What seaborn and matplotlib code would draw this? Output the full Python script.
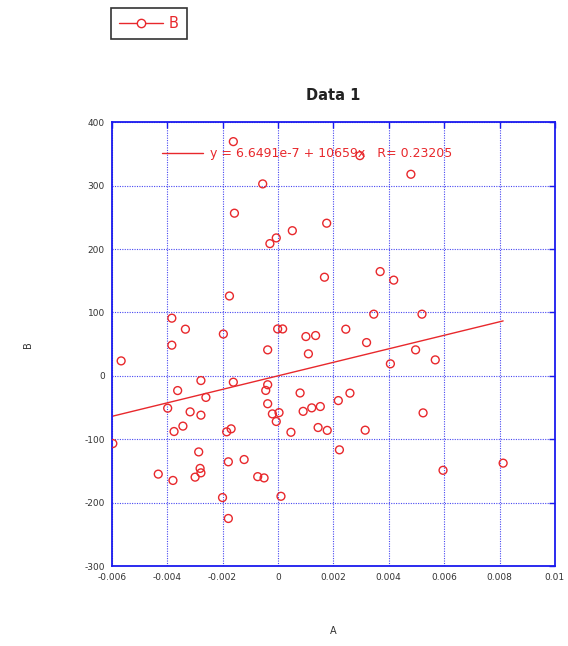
import matplotlib
matplotlib.use("Agg")
import matplotlib.pyplot as plt
from matplotlib.lines import Line2D
import numpy as np
import pandas as pd
import seaborn as sns

# ---- data ----
a_vals = [-0.00161, -0.00055, -0.00157, 0.00052, -0.00006, -0.00029, 0.00296, 0.0048,
          0.00176, -0.00383, -0.00334, -0.00383, -0.00566, -0.00278, -0.00362, -0.0026,
          -0.00398, -0.00175, -0.00197, -0.00001, 0.00017, 0.00101, 0.00136, -0.00037,
          0.0011, -0.00161, -0.00037, -0.00044, 0.0008, -0.00037, 0.00168, 0.00369,
          0.00418, 0.00346, 0.0052, 0.00245, 0.0032, 0.00497, 0.00406, 0.00568,
          0.0026, 0.00218, -0.0002, 0.00004, -0.00006, 0.00091, 0.00122, 0.00153,
          0.00047, 0.00145, 0.00178, 0.00315, 0.00524, 0.00222, 0.00596, 0.00813,
          -0.00596, -0.00317, -0.00278, -0.00343, -0.00375, -0.00185, -0.00169, -0.00286,
          -0.00179, -0.00122, -0.00281, -0.00278, -0.00432, -0.00299, -0.00379, -0.00073,
          -0.0005, -0.002, 0.00011, -0.00179]
b_vals = [369.5, 302.8, 256.6, 229, 217.6, 208.6, 347.4, 318,
          240.8, 91, 73.6, 48.4, 23.6, -7.4, -23.2, -34,
          -51, 126, 66, 74, 74, 62, 63.6, 41,
          34.7, -10, -14, -23, -27, -44, 155.6, 164.5,
          151, 97.3, 97.3, 73.6, 52.5, 41, 19, 25.2,
          -27.3, -39, -60, -58, -72, -56, -50.5, -48.4,
          -89, -81.5, -86, -85.7, -58.4, -116.7, -149, -137.7,
          -106.8, -56.8, -62, -79.3, -87.8, -88.3, -83.6, -120,
          -135.6, -132, -146, -153, -155, -159.8, -165, -159,
          -161, -192, -190, -225]
fit_intercept = 6.6491e-7
fit_slope = 10659
fit_r = 0.23205
fit_label = "y = 6.6491e-7 + 10659x   R= 0.23205"
x_ticks = [-0.006, -0.004, -0.002, 0, 0.002, 0.004, 0.006, 0.008, 0.01]
x_ticklabels = ["-0.006", "-0.004", "-0.002", "0", "0.002", "0.004", "0.006", "0.008", "0.01"]
y_ticks = [-300, -200, -100, 0, 100, 200, 300, 400]
y_ticklabels = ["-300", "-200", "-100", "0", "100", "200", "300", "400"]
series_name = "B"
title = "Data 1"
x_label = "A"
y_label = "B"

df = pd.DataFrame({"A": a_vals, "B": b_vals})

RED = "#e8282c"
BLUE = "#1a1aee"

sns.set_style("white")
plt.rcParams["font.family"] = ["DejaVu Sans"]

fig = plt.figure(figsize=(5.68, 6.46), dpi=100)
ax = fig.add_axes([0.1967, 0.1238, 0.7803, 0.6869])

sns.scatterplot(data=df, x="A", y="B", ax=ax, marker="o", s=32,
                fc="none", ec=RED, linewidth=1.0, zorder=3)

# regression line over the data range
xs = np.array([min(a_vals), max(a_vals)])
sns.lineplot(x=xs, y=fit_intercept + fit_slope * xs, ax=ax, color=RED,
             linewidth=1.0, zorder=2)

ax.set_xlim(-0.006, 0.01)
ax.set_ylim(-300, 400)
ax.set_xticks(x_ticks)
ax.set_xticklabels(x_ticklabels)
ax.set_yticks(y_ticks)
ax.set_yticklabels(y_ticklabels)
ax.tick_params(axis="both", direction="in", length=4, width=1, color=BLUE,
               labelsize=6.5, labelcolor="#333333", top=True, right=True, pad=5)

ax.grid(True, linestyle=(0, (1, 1.2)), color=BLUE, linewidth=0.8, alpha=0.8)
for s in ax.spines.values():
    s.set_color(BLUE)
    s.set_linewidth(1.3)
    s.set_visible(True)

ax.set_xlabel(x_label, fontsize=7, color="#333333", labelpad=32)
ax.set_ylabel(y_label, fontsize=7, color="#333333", labelpad=37)
ax.set_title(title, fontsize=10.5, fontweight="bold", color="#222222", pad=16)

# fit annotation inside plot
ax.plot([-0.00417, -0.0027], [351, 351], color=RED, linewidth=1.0)
ax.text(-0.00245, 351, fit_label, color=RED, fontsize=9, va="center", ha="left")

# legend above the axes
handle = Line2D([], [], color=RED, linewidth=1.0, marker="o", markersize=6,
                markerfacecolor="white", markeredgecolor=RED)
leg = fig.legend([handle], [series_name], loc="upper left",
                 bbox_to_anchor=(111 / 568, 1 - 8 / 646), borderaxespad=0,
                 frameon=True, fancybox=False, edgecolor="black", fontsize=10.5,
                 handlelength=3.0, borderpad=0.55, handletextpad=0.4,
                 labelcolor=RED)
leg.get_frame().set_linewidth(1.2)

fig.savefig("out.png", dpi=100)
